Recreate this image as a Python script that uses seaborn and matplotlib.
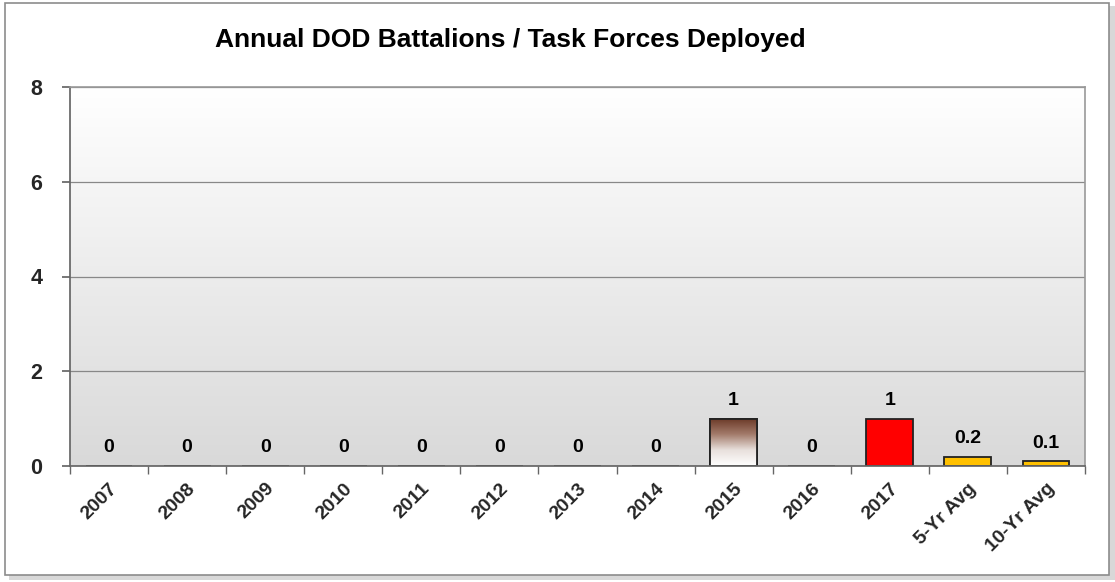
import numpy as np
import pandas as pd
import matplotlib
matplotlib.use("Agg")
import matplotlib.pyplot as plt
import seaborn as sns
from matplotlib.patches import Rectangle
from matplotlib.colors import LinearSegmentedColormap

categories = ["2007", "2008", "2009", "2010", "2011", "2012", "2013", "2014",
              "2015", "2016", "2017", "5-Yr Avg", "10-Yr Avg"]
values = [0, 0, 0, 0, 0, 0, 0, 0, 1, 0, 1, 0.2, 0.1]
labels = ["0", "0", "0", "0", "0", "0", "0", "0", "1", "0", "1", "0.2", "0.1"]
title = "Annual DOD Battalions / Task Forces Deployed"
yticks = [0, 2, 4, 6, 8]

sns.set_theme(style="white")
plt.rcParams['font.family'] = ['Liberation Sans', 'DejaVu Sans']

df = pd.DataFrame({"cat": categories, "val": values})
palette = ["#FFC000"] * len(categories)
palette[categories.index("2017")] = "#FF0000"
palette[categories.index("2015")] = "#FFFFFF"

fig = plt.figure(figsize=(11.15, 5.82), dpi=100)
fig.patch.set_facecolor("white")

# outer frame with shadow
fig.add_artist(Rectangle((9/1115, 1 - 580/582), 1106/1115, 574/582, transform=fig.transFigure,
                         facecolor="#d8d8d8", edgecolor="none", zorder=0))
fig.add_artist(Rectangle((5/1115, 1 - 575/582), 1104/1115, 572/582, transform=fig.transFigure,
                         facecolor="white", edgecolor="#8c8c8c", linewidth=1.2, zorder=0.5))

ax = fig.add_axes([70/1115, 1 - 466/582, (1085 - 70)/1115, (466 - 87)/582])
ax.set_zorder(2)

# gradient background
grad = np.linspace(0, 1, 256).reshape(-1, 1)
bgcmap = LinearSegmentedColormap.from_list("bg", ["#ffffff", "#d9d9d9"])
ax.imshow(grad, aspect="auto", cmap=bgcmap, extent=[0, 1, 0, 1], transform=ax.transAxes,
          zorder=0)

sns.barplot(data=df, x="cat", y="val", hue="cat", palette=palette, legend=False,
            saturation=1, width=0.6, edgecolor="#222222", linewidth=1.3, ax=ax, zorder=3)

ax.set_xlim(-0.5, len(categories) - 0.5)
ax.set_ylim(0, 8)
ax.set_yticks(yticks)
ax.yaxis.grid(True, color="#888888", linewidth=0.9)
ax.set_axisbelow(True)
for gl in ax.get_ygridlines():
    gl.set_zorder(1)

# 2015 gradient bar
brown = LinearSegmentedColormap.from_list("br", ["#6a3826", "#a27a6a", "#e8e0dc", "#ffffff"])
i15 = categories.index("2015")
p = ax.patches[i15]
x0, y0, w, h = p.get_x(), p.get_y(), p.get_width(), p.get_height()
im = ax.imshow(np.linspace(0, 1, 256).reshape(-1, 1), aspect="auto", cmap=brown,
               extent=[x0, x0 + w, y0, y0 + h], zorder=3.5)
im.set_clip_path(p)
p.set_zorder(3.2)
ax.add_patch(Rectangle((x0, y0), w, h, facecolor="none", edgecolor="#222222",
                       linewidth=1.3, zorder=4))
ax.set_xlim(-0.5, len(categories) - 0.5)
ax.set_ylim(0, 8)

for i, (v, lab) in enumerate(zip(values, labels)):
    ax.annotate(lab, (i, v), xytext=(0, 7), textcoords="offset points", ha="center",
                va="bottom", fontsize=14, fontweight="bold", color="black", zorder=5)

ax.set_xlabel("")
ax.set_ylabel("")
for s in ["top", "right"]:
    ax.spines[s].set_color("#999999")
    ax.spines[s].set_linewidth(1.2)
ax.spines["left"].set_color("#666666")
ax.spines["bottom"].set_color("#666666")
for s in ax.spines.values():
    s.set_zorder(6)

ax.set_xticks(np.arange(len(categories)))
ax.set_xticklabels(categories, rotation=45, ha="right", rotation_mode="anchor",
                   fontsize=14, fontweight="bold")
ax.tick_params(axis="x", length=0, pad=10)
ax.set_xticks(np.arange(len(categories) + 1) - 0.5, minor=True)
ax.tick_params(axis="x", which="minor", length=6, direction="out", color="#666666", bottom=True)
ax.tick_params(axis="y", length=6, direction="out", color="#666666", left=True,
               labelsize=15.5, pad=14)
for t in ax.get_yticklabels():
    t.set_fontweight("bold")

fig.text(510/1115, 1 - 40/582, title, ha="center", va="center", fontsize=19,
         fontweight="bold", color="black")

fig.savefig("out.png", dpi=100)
